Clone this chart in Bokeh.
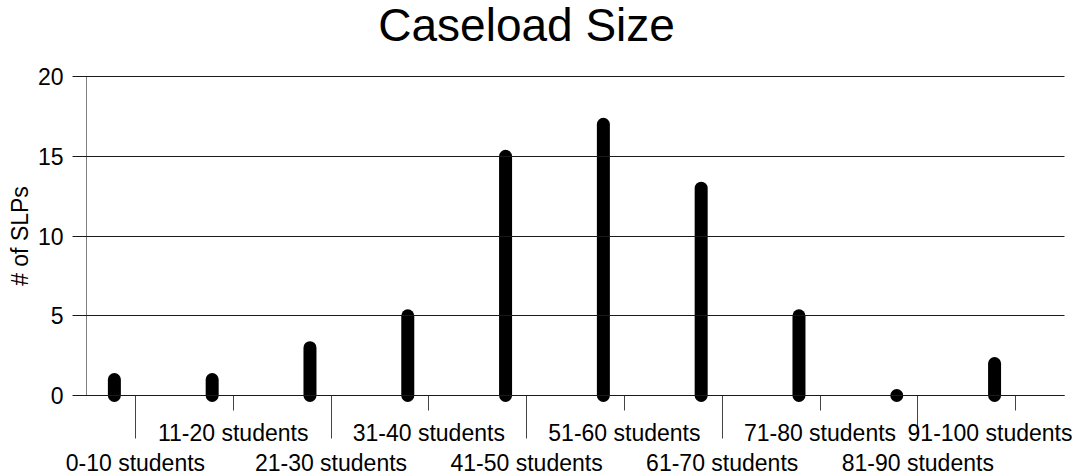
from bokeh.plotting import figure
from bokeh.models import LinearAxis, FixedTicker, Range1d, Label
from bokeh.embed import file_html
from bokeh.resources import INLINE

# ---- data ----
categories = ["0-10 students", "11-20 students", "21-30 students", "31-40 students",
              "41-50 students", "51-60 students", "61-70 students", "71-80 students",
              "81-90 students", "91-100 students"]
slp_counts = [1, 1, 3, 5, 15, 17, 13, 5, 0, 2]
y_ticks = [0, 5, 10, 15, 20]
title_text = "Caseload Size"
y_label = "# of SLPs"

FONT = "Liberation Sans"
n = len(categories)
tick_pos = [i + 0.5 for i in range(n)]
bar_x = [i + 0.285 for i in range(n)]

# ---- layout (canvas pixels) ----
W, H = 1072, 475
AXIS_X, UNIT_PX = 86, 97.8          # value axis position, width of one category
TOP_Y, ZERO_Y = 76, 395             # canvas px of y=20 and y=0
ppu = (ZERO_Y - TOP_Y) / (y_ticks[-1] - y_ticks[0])
x_range = Range1d(-AXIS_X / UNIT_PX, (W - AXIS_X) / UNIT_PX)
y_range = Range1d(y_ticks[0] - (H - ZERO_Y) / ppu, y_ticks[-1] + TOP_Y / ppu)

p = figure(width=W, height=H, x_range=x_range, y_range=y_range,
           output_backend="svg", toolbar_location=None,
           x_axis_location=None, y_axis_location=None, min_border=0)
p.outline_line_color = None
p.background_fill_color = "white"
p.border_fill_color = "white"
p.xgrid.visible = False
p.ygrid.visible = False

# bars: thick rounded lines
p.segment(x0=bar_x, y0=[0] * n, x1=bar_x, y1=slp_counts,
          line_color="black", line_width=13, line_cap="round")

# value axis at x=0; its inward ticks span the plot width and act as gridlines
ya = LinearAxis(
    fixed_location=0, bounds=(y_ticks[0], y_ticks[-1]),
    ticker=FixedTicker(ticks=y_ticks),
    major_tick_out=14, major_tick_in=int(round(n * UNIT_PX)),
    major_tick_line_color="#1a1a1a", major_tick_line_width=1,
    minor_tick_line_color=None, axis_line_color="#808080",
    major_label_standoff=9, major_label_text_font=FONT,
    major_label_text_font_size="23px", major_label_text_color="black",
    axis_label=y_label, axis_label_text_font=FONT, axis_label_text_font_size="23px",
    axis_label_text_font_style="normal", axis_label_text_color="black",
    axis_label_standoff=2)
p.add_layout(ya, "left")

# category axis A at y=0: short ticks + upper-row labels (odd categories), long minor ticks
axis_a = LinearAxis(
    fixed_location=0, bounds=(0, n),
    ticker=FixedTicker(ticks=tick_pos[1::2], minor_ticks=tick_pos[0::2]),
    major_label_overrides={tick_pos[i]: categories[i] for i in range(1, n, 2)},
    major_tick_out=15, major_tick_in=0, minor_tick_out=43, minor_tick_in=0,
    major_tick_line_color="#444444", minor_tick_line_color="#444444",
    axis_line_color="#222222", major_label_standoff=-19,
    major_label_text_font=FONT, major_label_text_font_size="23px",
    major_label_text_color="black")
p.add_layout(axis_a, "below")

# category axis B at y=0: lower-row labels (even categories)
axis_b = LinearAxis(
    fixed_location=0, bounds=(0, n),
    ticker=FixedTicker(ticks=tick_pos[0::2]),
    major_label_overrides={tick_pos[i]: categories[i] for i in range(0, n, 2)},
    major_tick_out=0, major_tick_in=0, major_tick_line_color=None,
    minor_tick_line_color=None, axis_line_color=None, major_label_standoff=54,
    major_label_text_font=FONT, major_label_text_font_size="23px",
    major_label_text_color="black")
p.add_layout(axis_b, "below")

# title
p.add_layout(Label(x=n / 2 - 0.5, y=y_ticks[-1], y_offset=52, text=title_text,
                   text_align="center", text_baseline="middle",
                   text_font=FONT, text_font_size="46px", text_color="black"))

open("out.html", "w").write(file_html(p, INLINE))
